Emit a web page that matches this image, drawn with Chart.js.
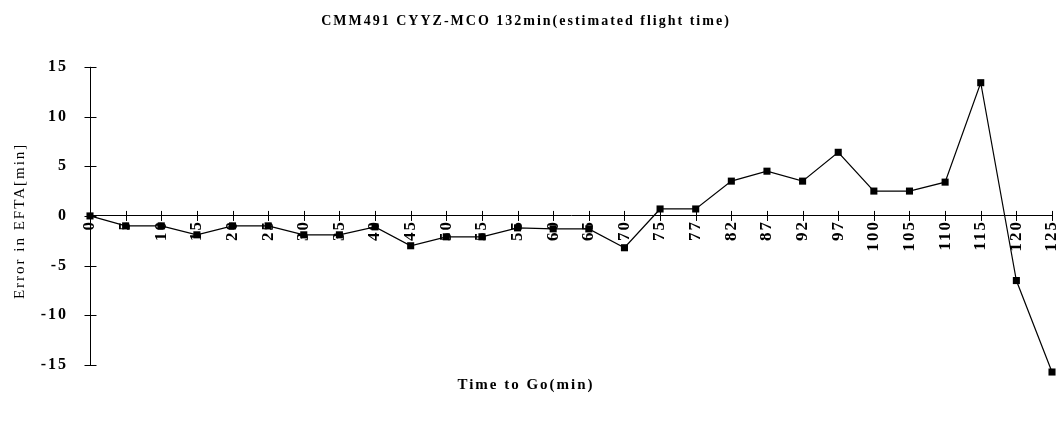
<!DOCTYPE html>
<html>
<head>
<meta charset="utf-8">
<script src="https://cdn.jsdelivr.net/npm/chart.js@4.4.0/dist/chart.umd.min.js"></script>
<style>
  html, body { margin: 0; padding: 0; background: #fff; }
  #wrap { width: 1062px; height: 429px; }
</style>
</head>
<body>
<div id="wrap"><canvas id="myChart" width="1062" height="429"></canvas></div>
<script>
// chart values
var timeToGo = ['0','5','10','15','20','25','30','35','40','45','50','55','55','60','65','70',
                '75','77','82','87','92','97','100','105','110','115','120','125'];
var errorEfta = [0, -1, -1, -1.9, -1, -1, -1.9, -1.9, -1.1, -3, -2.1, -2.1, -1.2, -1.3, -1.3, -3.2,
                 0.7, 0.7, 3.5, 4.5, 3.5, 6.4, 2.5, 2.5, 3.4, 13.4, -6.5, -15.7];
var yTicks = [-15, -10, -5, 0, 5, 10, 15];

var serif = '"Liberation Serif", "DejaVu Serif", serif';

// the scanned original has loose letter spacing everywhere
var looseText = {
  id: 'looseText',
  beforeUpdate: function (chart) { chart.ctx.letterSpacing = '2px'; },
  beforeDraw: function (chart) { chart.ctx.letterSpacing = '2px'; }
};

// y axis line only from -15 to 15, plus little ticks crossing both axes
var crossTicks = {
  id: 'crossTicks',
  afterDraw: function (chart) {
    var xs = chart.scales.x, ys = chart.scales.y, c = chart.ctx;
    var y0 = ys.getPixelForValue(0);
    var x0 = Math.round(xs.getPixelForValue(0)) + 0.5;
    c.save();
    c.strokeStyle = '#000';
    c.lineWidth = 1;
    c.beginPath();
    c.moveTo(x0, ys.getPixelForValue(yTicks[yTicks.length - 1]));
    c.lineTo(x0, ys.getPixelForValue(yTicks[0]));
    for (var i = 0; i < xs.ticks.length; i += 1) {
      var px = Math.round(xs.getPixelForTick(i)) + 0.5;
      c.moveTo(px, y0 - 5);
      c.lineTo(px, y0 + 5);
    }
    for (var j = 0; j < yTicks.length; j += 1) {
      var py = Math.round(ys.getPixelForValue(yTicks[j])) + 0.5;
      c.moveTo(x0 - 6, py);
      c.lineTo(x0 + 6, py);
    }
    c.stroke();
    c.restore();
  }
};

var ctx = document.getElementById('myChart');
var myChart = new Chart(ctx, {
  type: 'line',
  data: {
    labels: timeToGo,
    datasets: [{
      label: 'Error in EFTA',
      data: errorEfta,
      borderColor: '#000',
      backgroundColor: '#000',
      borderWidth: 1.2,
      pointStyle: 'rect',
      pointRadius: 5,
      pointBorderWidth: 0,
      tension: 0,
      clip: false
    }]
  },
  options: {
    responsive: false,
    animation: false,
    layout: { padding: { left: 0, right: 10, top: 0, bottom: 0 } },
    plugins: {
      legend: { display: false },
      tooltip: { enabled: false },
      title: {
        display: true,
        text: 'CMM491 CYYZ-MCO 132min(estimated flight time)',
        color: '#000',
        font: { family: serif, size: 14, weight: 'bold' },
        padding: { top: 13, bottom: 37 }
      },
      subtitle: {
        display: true,
        position: 'bottom',
        text: 'Time to Go(min)',
        color: '#000',
        font: { family: serif, size: 15, weight: 'bold' },
        padding: { top: 1, bottom: 35 }
      }
    },
    scales: {
      x: {
        type: 'category',
        position: { y: 0 },
        offset: false,
        afterFit: function (scale) { scale.paddingLeft = 0; scale.paddingRight = 0; },
        grid: { display: false, drawOnChartArea: false, tickLength: 4 },
        border: { display: true, color: '#000', width: 1 },
        ticks: {
          autoSkip: false,
          minRotation: 90,
          maxRotation: 90,
          padding: 0,
          color: '#000',
          font: { family: serif, size: 17, weight: 'bold' }
        }
      },
      y: {
        min: -16,
        max: 15,
        afterFit: function (scale) { scale.width = 90; },
        afterBuildTicks: function (scale) {
          scale.ticks = yTicks.map(function (v) { return { value: v }; });
        },
        grid: { display: false, drawOnChartArea: false },
        border: { display: false },
        ticks: {
          padding: 14,
          color: '#000',
          font: { family: serif, size: 16, weight: 'bold' }
        },
        title: {
          display: true,
          text: 'Error in EFTA[min]',
          color: '#000',
          font: { family: serif, size: 15 },
          padding: { top: 11, bottom: 4 }
        }
      }
    }
  },
  plugins: [looseText, crossTicks]
});
</script>
</body>
</html>
